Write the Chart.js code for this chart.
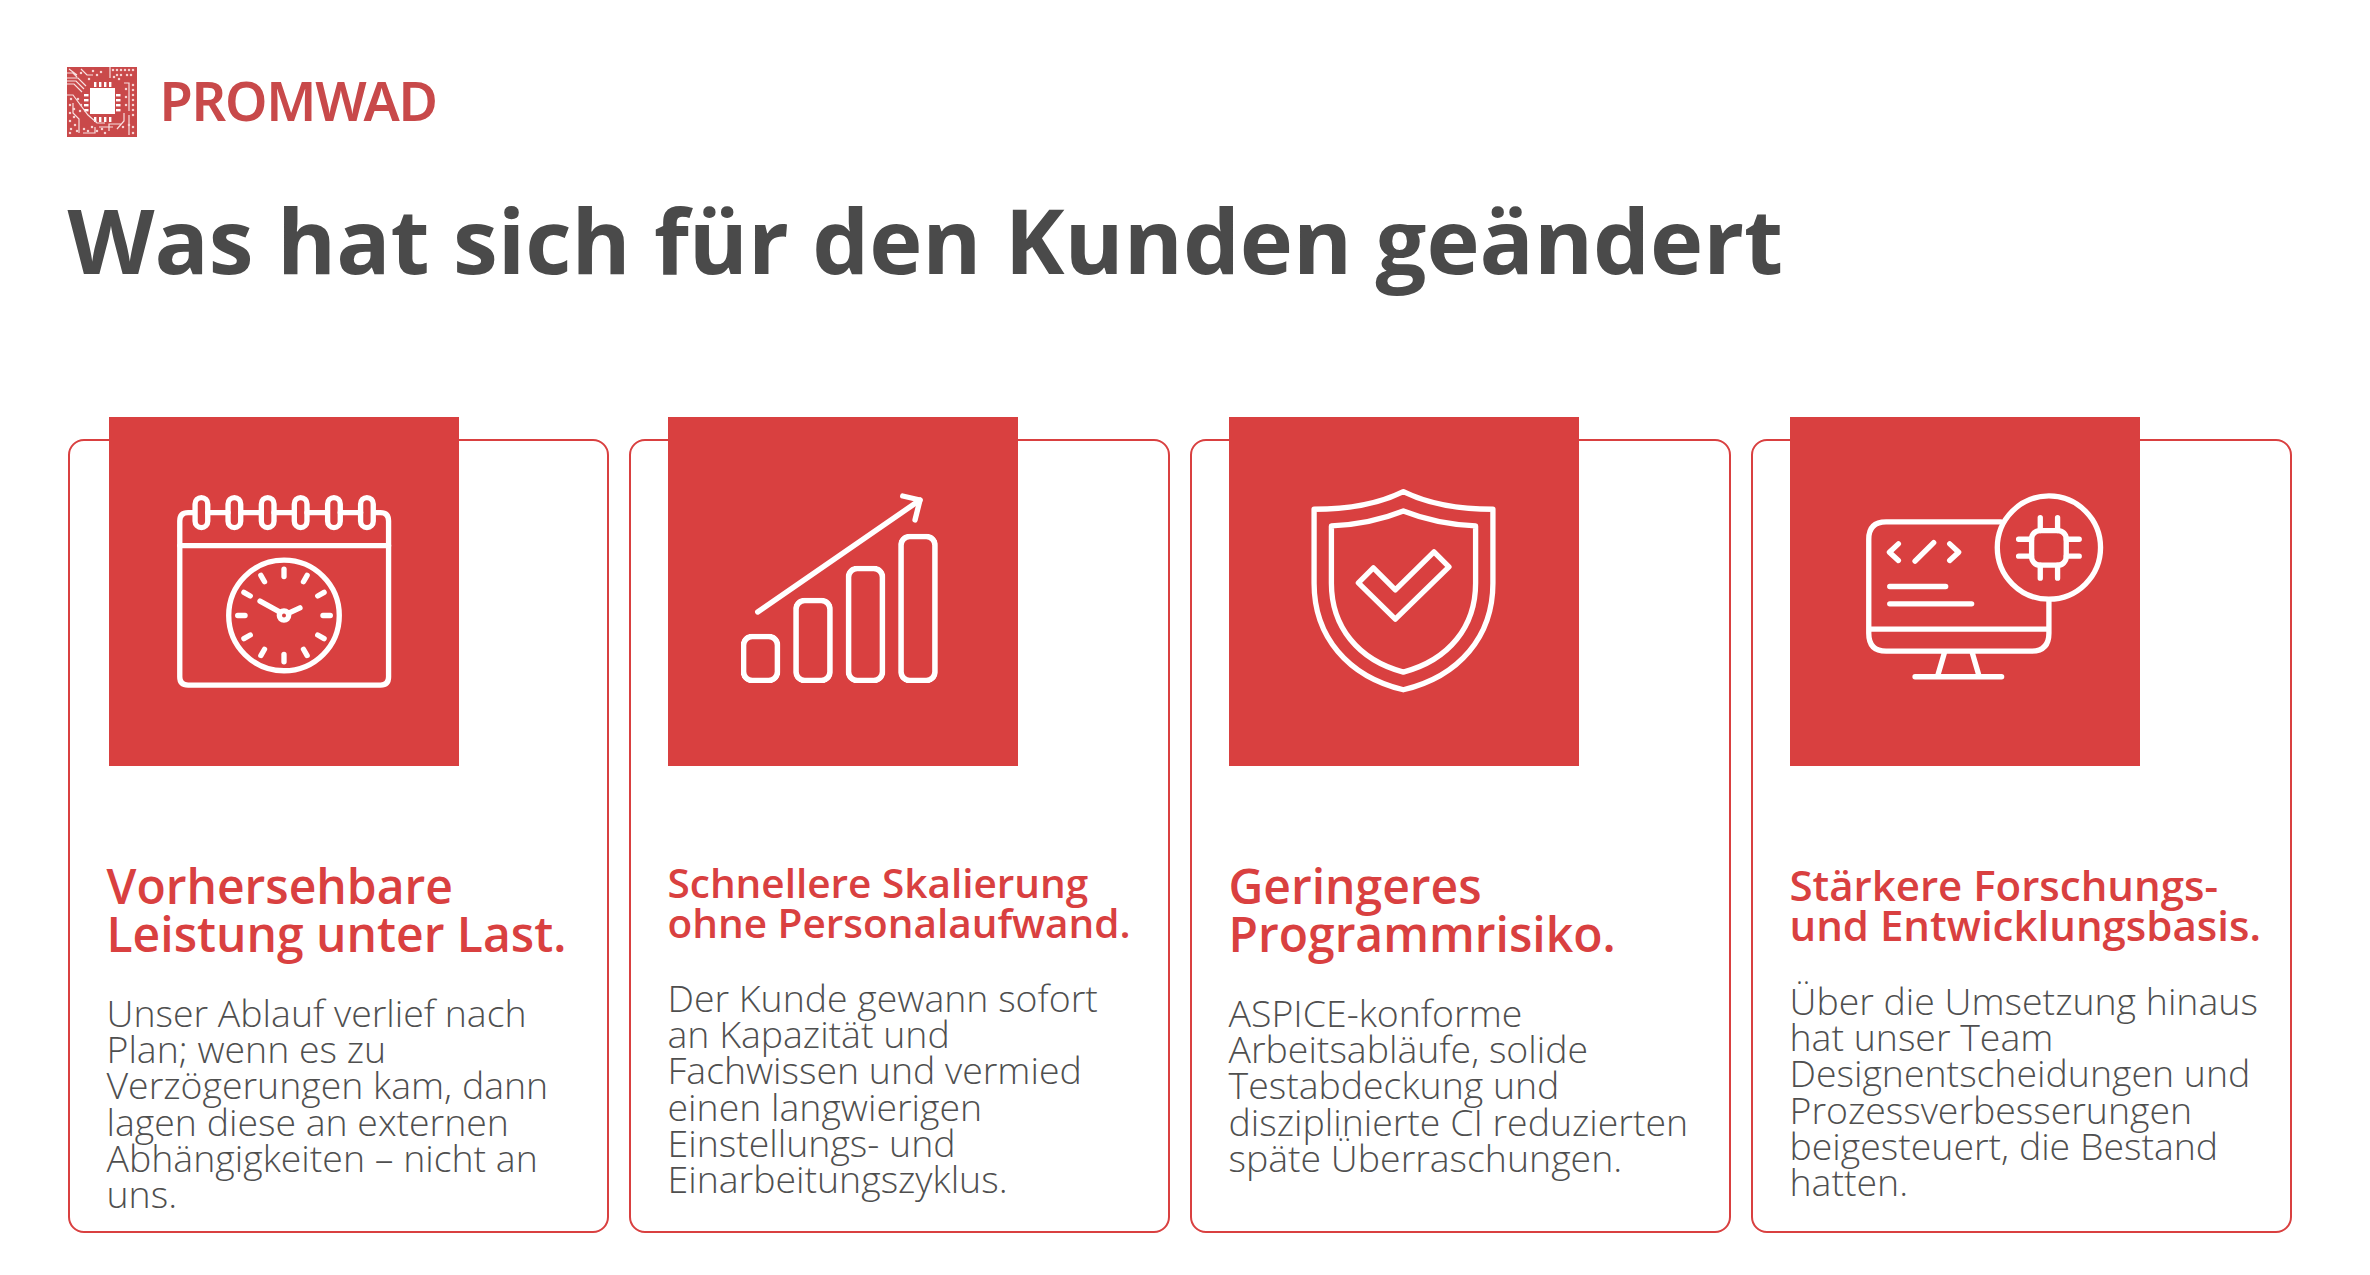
<!DOCTYPE html>
<html lang="de"><head><meta charset="utf-8">
<script src="https://cdn.jsdelivr.net/npm/chart.js@4"></script>
<style>
html,body{margin:0;padding:0;width:2370px;height:1275px;background:#fff;overflow:hidden;font-family:"Open Sans",sans-serif}
.card{position:absolute;box-sizing:border-box;border:2px solid #d94040;border-radius:16px;background:#fff}
.sq{position:absolute;background:#d94040}
.sq svg{position:absolute;left:0;top:0;width:100%;height:100%;fill:none;stroke:#fff;stroke-width:16;stroke-linecap:round;stroke-linejoin:round}
.t{position:absolute;white-space:nowrap}
.h{color:#d94040;font-weight:600}
.b{color:#4f4f4f;font-weight:300}
#title{position:absolute;left:67.5px;top:188.5px;font-size:90px;line-height:100px;font-weight:700;color:#4a4a4a;white-space:nowrap}
#brand{position:absolute;left:159.5px;top:60px;font-family:"Noto Sans",sans-serif;font-size:54px;line-height:80px;font-weight:600;color:#c8494a;white-space:nowrap;letter-spacing:-1.2px}
</style></head><body>
<svg id="logo" style="position:absolute;left:67px;top:67px" width="70" height="70" viewBox="0 0 70 70"></svg>
<div id="brand">PROMWAD</div>
<div id="title">Was hat sich für den Kunden geändert</div>
<div id="root"></div>
<script>
// ---- Data ----
const cardLeft = [68, 629, 1190, 1751];
const squareLeft = [109, 667.5, 1228.5, 1789.5];
const textLeft = [106.5, 667.5, 1228.5, 1789.5];
const headings = [
  ["Vorhersehbare","Leistung unter Last."],
  ["Schnellere Skalierung","ohne Personalaufwand."],
  ["Geringeres","Programmrisiko."],
  ["Stärkere Forschungs-","und Entwicklungsbasis."]
];
const bodies = [
  ["Unser Ablauf verlief nach","Plan; wenn es zu","Verzögerungen kam, dann","lagen diese an externen","Abhängigkeiten – nicht an","uns."],
  ["Der Kunde gewann sofort","an Kapazität und","Fachwissen und vermied","einen langwierigen","Einstellungs- und","Einarbeitungszyklus."],
  ["ASPICE-konforme","Arbeitsabläufe, solide","Testabdeckung und","disziplinierte CI reduzierten","späte Überraschungen."],
  ["Über die Umsetzung hinaus","hat unser Team","Designentscheidungen und","Prozessverbesserungen","beigesteuert, die Bestand","hatten."]
];
const headingSize = [48, 40.5, 48, 42];
const headingGap = [48.2, 40.8, 48.2, 40.8];
const headingY = [886, 883, 886, 885];
const bodyY = [1013, 998, 1013, 1001];
// Icon chart of the second card: growth bars and the arrow above them
const barX = [19.5, 72, 124.5, 177];
const barHeights = [49, 85, 117, 149];
const arrowShaftX = [16.7, 179];
const arrowShaftY = [71, 183];
const arrowHeadX = [161.7, 179, 174];
const arrowHeadY = [187, 183, 163];

// ---- Layout ----
const root = document.getElementById('root');
function el(cls, css, txt){const d=document.createElement('div');d.className=cls;d.style.cssText=css;if(txt!=null)d.innerHTML=txt;root.appendChild(d);return d;}
const icons = [
 {vb:"148 21 1048 1048", s:(()=>{
   let p='<path d="M398 308H384Q359 308 359 333V802Q359 826 384 826H962Q986 826 986 802V333Q986 308 962 308H946"/><path d="M359 407H986"/>';
   [424,523,623,722,822,921].forEach((x,i)=>{p+=`<rect x="${x-19}" y="263" width="38" height="90" rx="19"/>`;if(i<5)p+=`<path d="M${x+19} 308H${x+80}"/>`;});
   p+='<circle cx="672" cy="617" r="166"/><circle cx="672" cy="617" r="14"/><path d="M660 607L600 574M686 610L720 594"/>';
   for(let k=0;k<12;k++){const a=k*Math.PI/6,c=Math.cos(a),n=Math.sin(a);p+=`<path d="M${672+117*n} ${617-117*c}L${672+139*n} ${617-139*c}"/>`;}
   return p;})()},
 {vb:"22 21 1048 1048", s:''},
 {vb:"25 21 1048 1048", s:'<path d="M547 245Q440 298 279 298V520C279 680 380 800 547 840C715 800 816 680 816 520V298Q655 298 547 245Z"/><path d="M547 303Q450 342 331 348V520C331 650 410 750 547 787C685 750 764 650 764 520V348Q645 342 547 303Z"/><path d="M412 519L457 474L523 540L639 426L684 471L523 628Z"/>'},
 {vb:"28 21 1048 1048", s:'<path d="M660 336H315Q263 336 263 388V670Q263 724 315 724H750Q804 724 804 670V575M263 658H804M490 730L470 798M574 730L594 798M402 801H662"/><circle cx="804" cy="413" r="155"/><path d="M352 402L325 427L352 452M402 454L458 398M506 402L533 427L506 452M326 530H494M326 582H572"/><rect x="752" y="362" width="104" height="104" rx="25"/><path d="M778 323V362M830 323V362M778 466V505M830 466V505M713 388H752M713 439H752M856 388H895M856 439H895"/>'}
];
cardLeft.forEach((x,i)=>{
  el('card',`left:${x}px;top:439px;width:541px;height:794px`);
  const sq=el('sq',`left:${squareLeft[i]}px;top:417px;width:350px;height:349px`);
  sq.innerHTML=`<svg viewBox="${icons[i].vb}">${icons[i].s}</svg>`;
  el('t h',`left:${textLeft[i]}px;top:${headingY[i]-headingGap[i]/2}px;line-height:${headingGap[i]}px;font-size:${headingSize[i]}px`,headings[i].join('<br>'));
  el('t b',`left:${textLeft[i]}px;top:${bodyY[i]-18.1}px;line-height:36.2px;font-size:37.45px`,bodies[i].join('<br>'));
});

// Logo: circuit board motif
(function(){
  let s='<rect width="70" height="70" fill="#c9494a"/>';
  s+='<rect x="23" y="21" width="25" height="26" fill="#fff"/>';
  [28,33,38,43].forEach(x=>{s+=`<rect x="${x-1}" y="15" width="2.4" height="5" fill="#fff"/><rect x="${x-1}" y="50" width="2.4" height="5" fill="#fff"/>`;});
  [28,33,38,43].forEach(y=>{s+=`<rect x="17" y="${y-1}" width="4.5" height="2.4" fill="#fff"/><rect x="49" y="${y-1}" width="4.5" height="2.4" fill="#fff"/>`;});
  s+='<g stroke="#f8e0e0" stroke-width="1.2" fill="none">';
  s+='<path d="M0 11H11L19 19M0 14H9L17 22M0 17H7L15 25M0 6H6L10 10M0 28H6L21 48L30 56H38M42 64V57H54M57 16H62V44M43 0V11M2 2L10 8M14 2L20 8H26M6 36V46L12 52V66M50 62L57 54V46M62 48V68M32 60H46M16 66H28V60"/>';
  s+='</g><g fill="#f6d2d2">';
  const dots=[[46,3],[50,3],[54,3],[58,3],[62,3],[66,3],[50,8],[54,8],[60,8],[64,8],[66,18],[66,23],[66,28],[66,33],[66,38],[66,43],[66,48],[59,22],[59,30],[59,38],[3,38],[7,42],[3,46],[7,50],[3,54],[8,58],[4,62],[10,64],[3,66],[17,62],[21,64],[25,60],[30,64],[35,62],[38,66],[14,6],[22,12],[26,4],[30,8],[34,5],[11,32],[14,38],[4,32],[13,44],[52,12],[47,10],[56,60],[62,58],[66,60],[66,66]];
  dots.forEach(d=>{s+=`<rect x="${d[0]-1.1}" y="${d[1]-1.1}" width="2.2" height="2.2"/>`;});
  s+='</g>';
  document.getElementById('logo').innerHTML=s;
})();

// ---- Chart.js: growth icon ----
const canvasBox = el('', 'position:absolute;left:741px;top:483px;width:200px;height:200px');
const canvas = document.createElement('canvas');
canvas.id='growth'; canvasBox.appendChild(canvas);
const toPts=(xs,ys)=>xs.map((x,i)=>({x,y:ys[i]}));
new Chart(canvas,{
  type:'bar',
  data:{datasets:[
    {type:'bar',label:'Wachstum',data:toPts(barX,barHeights),backgroundColor:'rgba(0,0,0,0)',borderColor:'#fff',borderWidth:5,borderRadius:11,borderSkipped:false,barThickness:39,clip:false,order:2},
    {type:'line',label:'Pfeil',data:toPts(arrowShaftX,arrowShaftY),borderColor:'#fff',borderWidth:5.3,borderCapStyle:'round',pointRadius:0,tension:0,fill:false,clip:false,order:1},
    {type:'line',label:'Pfeilspitze',data:toPts(arrowHeadX,arrowHeadY),borderColor:'#fff',borderWidth:5.3,borderCapStyle:'round',borderJoinStyle:'round',pointRadius:0,tension:0,fill:false,clip:false,order:1}
  ]},
  options:{
    responsive:true,maintainAspectRatio:false,animation:false,devicePixelRatio:1,
    layout:{padding:0},
    plugins:{legend:{display:false},tooltip:{enabled:false},title:{display:false}},
    scales:{
      x:{type:'linear',min:0,max:200,display:false,offset:false},
      y:{type:'linear',min:0,max:200,display:false}
    }
  }
});
</script>
</body></html>
